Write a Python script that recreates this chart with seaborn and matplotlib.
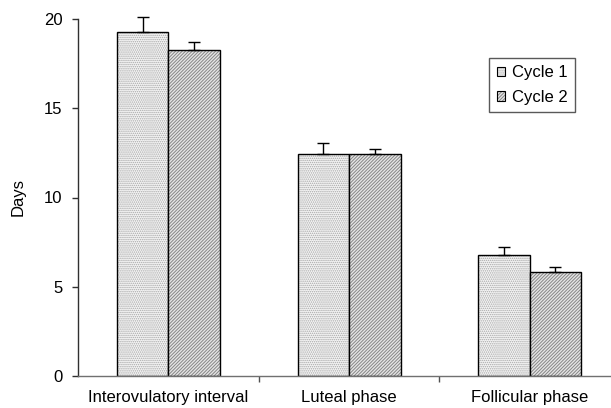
import numpy as np
import pandas as pd
import seaborn as sns
import matplotlib
matplotlib.use("Agg")
import matplotlib.pyplot as plt
from matplotlib.colors import to_rgba
from matplotlib.patches import Patch

categories = ["Interovulatory interval", "Luteal phase", "Follicular phase"]
series = ["Cycle 1", "Cycle 2"]
cycle1_mean = [19.25, 12.45, 6.8]
cycle2_mean = [18.25, 12.45, 5.8]
cycle1_err = [0.85, 0.6, 0.45]
cycle2_err = [0.45, 0.25, 0.32]
yticks = [0, 5, 10, 15, 20]

sns.set_theme(style="white")
plt.rcParams["font.family"] = ["Liberation Sans", "DejaVu Sans"]
plt.rcParams["hatch.linewidth"] = 0.7
plt.rcParams["text.color"] = "black"
plt.rcParams["axes.labelcolor"] = "black"
plt.rcParams["xtick.labelcolor"] = "black"
plt.rcParams["ytick.labelcolor"] = "black"

df = pd.DataFrame({
    "Phase": categories * 2,
    "Cycle": [series[0]] * 3 + [series[1]] * 3,
    "Days": cycle1_mean + cycle2_mean,
})
errs = {series[0]: cycle1_err, series[1]: cycle2_err}

fig = plt.figure(figsize=(6.11, 4.08), dpi=100)
ax = fig.add_axes([78 / 611, 1 - 376 / 408, 1 - 78 / 611, (376 - 19) / 408])

sns.barplot(data=df, x="Phase", y="Days", hue="Cycle", order=categories,
            hue_order=series, width=0.57, ax=ax, errorbar=None, legend=False,
            palette=["white", "#d9d9d9"], saturation=1)

styles = {
    series[0]: dict(face="#f4f4f4", hatch="........", hcol="#a8a8a8"),
    series[1]: dict(face="#e6e6e6", hatch="//////////", hcol="#858585"),
}

for container, name in zip(ax.containers, series):
    st = styles[name]
    xs, hs = [], []
    for p in container.patches:
        p.set_facecolor(st["face"])
        p.set_hatch(st["hatch"])
        p.set_edgecolor("black")
        p.set_linewidth(1.0)
        if hasattr(p, "set_hatchcolor"):
            p.set_hatchcolor(st["hcol"])
        else:
            p._hatch_color = to_rgba(st["hcol"])
        xs.append(p.get_x() + p.get_width() / 2)
        hs.append(p.get_height())
    e = errs[name]
    ax.errorbar(xs, hs, yerr=[np.zeros(len(e)), e], fmt="none", ecolor="black",
                elinewidth=1.0, capsize=4, capthick=1.0, clip_on=False, zorder=1)

ax.set_ylim(0, 20)
ax.set_xlim(-0.5, 2.45)
ax.set_yticks(yticks)
ax.set_yticklabels([str(t) for t in yticks])
ax.set_xlabel("")
ax.set_ylabel("Days", fontsize=12, labelpad=13, color="black")

for s in ["top", "right"]:
    ax.spines[s].set_visible(False)
ax.spines["left"].set_color("#303030")
ax.spines["bottom"].set_color("#707070")
ax.spines["left"].set_linewidth(1.0)
ax.spines["bottom"].set_linewidth(1.0)

ax.tick_params(axis="y", which="major", direction="out", length=4, width=1.0,
               color="#303030", left=True, labelsize=12, pad=7, labelcolor="black")
ax.tick_params(axis="x", which="major", length=0, labelsize=12, pad=10, labelcolor="black")
ax.set_xticks([0.5, 1.5], minor=True)
ax.tick_params(axis="x", which="minor", direction="out", length=4, width=1.0,
               color="#505050", bottom=True)

handles = []
for name in series:
    st = styles[name]
    h = Patch(facecolor=st["face"], hatch=st["hatch"], edgecolor="black",
              linewidth=0.8, label=name)
    handles.append(h)
leg = ax.legend(handles=handles, loc="upper left", bbox_to_anchor=(489 / 611, 1 - 58 / 408),
                bbox_transform=fig.transFigure, fontsize=12, frameon=True, fancybox=False,
                handlelength=0.5, handleheight=0.5, handletextpad=0.4,
                borderpad=0.45, labelspacing=0.55, borderaxespad=0)
leg.get_frame().set_edgecolor("#303030")
leg.get_frame().set_linewidth(1.0)
for t in leg.get_texts():
    t.set_color("black")
for h in leg.legend_handles:
    st = styles[h.get_label()]
    if hasattr(h, "set_hatchcolor"):
        h.set_hatchcolor(st["hcol"])
    else:
        h._hatch_color = to_rgba(st["hcol"])

fig.savefig("out.png", dpi=100)
